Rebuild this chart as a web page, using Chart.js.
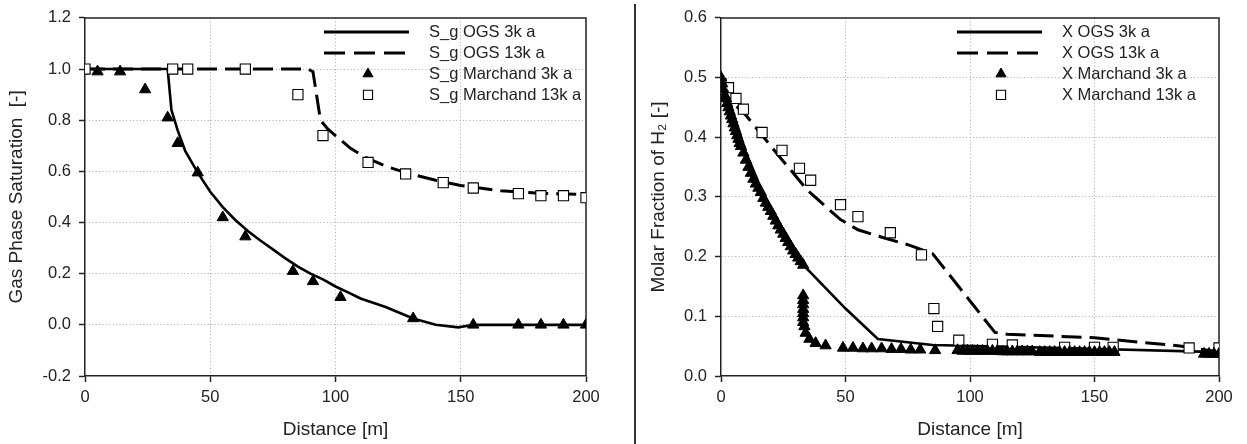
<!DOCTYPE html>
<html lang="en">
<head>
  <meta charset="UTF-8">
  <title>Gas saturation and H2 molar fraction</title>
  <script src="https://cdn.jsdelivr.net/npm/chart.js"></script>
  <style>
    body { margin: 0; background: #fff; }
    #wrap { position: relative; width: 1247px; height: 444px; overflow: hidden; }
    #left { position: absolute; left: 0; top: 0; }
    #right { position: absolute; left: 640px; top: 0; }
    #sep { position: absolute; left: 634px; top: 4px; width: 1.5px; height: 440px; background: #333; }
  </style>
</head>
<body>
  <div id="wrap">
    <canvas id="left" width="610" height="444"></canvas>
    <div id="sep"></div>
    <canvas id="right" width="607" height="444"></canvas>
  </div>

  <script>
    // ---- left panel: gas phase saturation ----
    const sgOgs3kX = [0, 33, 34.5, 37, 40, 45, 50, 55, 60, 65, 70, 75, 80, 85, 90, 95, 100, 105, 110, 120, 131, 140, 149, 155, 200];
    const sgOgs3kY = [1.0, 1.0, 0.84, 0.76, 0.68, 0.595, 0.52, 0.46, 0.41, 0.367, 0.33, 0.295, 0.26, 0.228, 0.2, 0.178, 0.15, 0.127, 0.103, 0.07, 0.025, 0.0, -0.01, 0.0, 0.0];
    const sgOgs13kX = [0, 89, 91, 94, 97, 100, 106, 112, 120, 128, 140, 150, 166, 180, 200];
    const sgOgs13kY = [1.0, 1.0, 0.99, 0.80, 0.765, 0.74, 0.69, 0.655, 0.62, 0.595, 0.565, 0.545, 0.524, 0.515, 0.51];
    const sgMar3kX = [5, 14, 24, 33, 37, 45, 55, 64, 83, 91, 102, 131, 155, 173, 182, 191, 200];
    const sgMar3kY = [0.99, 0.99, 0.92, 0.81, 0.71, 0.595, 0.42, 0.345, 0.21, 0.17, 0.108, 0.025, 0.0, 0.0, 0.0, 0.0, 0.0];
    const sgMar13kX = [0, 35, 41, 64, 85, 95, 113, 128, 143, 155, 173, 182, 191, 200];
    const sgMar13kY = [1.0, 1.0, 1.0, 1.0, 0.9, 0.74, 0.635, 0.59, 0.556, 0.535, 0.513, 0.505, 0.505, 0.497];

    // ---- right panel: molar fraction of H2 ----
    const xOgs3kX = [0, 5, 10, 15, 20, 25, 30, 34, 50, 63, 85, 137, 200];
    const xOgs3kY = [0.5, 0.44, 0.375, 0.325, 0.28, 0.245, 0.21, 0.182, 0.113, 0.062, 0.052, 0.047, 0.04];
    const xOgs13kX = [0, 3, 10, 22, 35, 48, 55, 65, 75, 85, 110, 115, 150, 185, 200];
    const xOgs13kY = [0.49, 0.465, 0.437, 0.375, 0.31, 0.262, 0.245, 0.232, 0.22, 0.205, 0.073, 0.07, 0.064, 0.05, 0.04];
    const xMar3kX = [0, 0.5, 1, 1.5, 2, 2.5, 3, 3.5, 4, 4.5, 5, 5.5, 6, 6.5, 7, 7.5, 8, 9, 10, 11, 12, 13, 14, 15, 16, 17, 18, 19, 20, 21, 22, 23, 24, 25, 26, 27, 28, 29, 30, 31, 32, 33,
      33, 33, 33, 33, 33, 33, 33, 33.5, 34, 35.5, 38, 42,
      49, 53, 57, 60.5, 64.5, 68.5, 72.3, 76.2, 80, 86,
      95, 97, 99, 101, 103, 105, 107, 109, 111, 113, 115, 117, 119, 121, 123, 125,
      128, 130, 132, 134, 136, 138, 140, 142, 144, 146, 148, 150, 152, 154, 156, 158,
      194, 196, 198, 200];
    const xMar3kY = [0.5, 0.49, 0.48, 0.47, 0.465, 0.457, 0.45, 0.443, 0.436, 0.43, 0.423, 0.416, 0.41, 0.403, 0.397, 0.39, 0.385, 0.374, 0.362, 0.35, 0.34, 0.33, 0.322, 0.315, 0.308, 0.298, 0.29, 0.283, 0.276, 0.268, 0.26, 0.252, 0.245, 0.238, 0.231, 0.224, 0.217, 0.21, 0.204, 0.198, 0.192, 0.186,
      0.135, 0.127, 0.12, 0.112, 0.105, 0.098, 0.09, 0.083, 0.072, 0.062, 0.055, 0.051,
      0.047, 0.047, 0.046, 0.046, 0.046, 0.045, 0.045, 0.044, 0.044, 0.043,
      0.043, 0.042, 0.042, 0.042, 0.042, 0.042, 0.042, 0.042, 0.042, 0.041, 0.041, 0.041, 0.041, 0.041, 0.041, 0.041,
      0.04, 0.04, 0.04, 0.04, 0.04, 0.04, 0.04, 0.04, 0.04, 0.04, 0.04, 0.04, 0.04, 0.04, 0.04, 0.04,
      0.037, 0.037, 0.037, 0.037];
    const xMar13kX = [0, 3, 6, 9, 16.5, 24.5, 31.5, 36, 48, 55, 68, 80.5, 85.5, 87, 95.5, 109, 117, 138, 150, 157.5, 188, 200];
    const xMar13kY = [0.49, 0.483, 0.465, 0.447, 0.408, 0.378, 0.348, 0.328, 0.287, 0.267, 0.24, 0.203, 0.113, 0.083, 0.06, 0.053, 0.052, 0.048, 0.048, 0.048, 0.047, 0.047];

    const xTicks = [0, 50, 100, 150, 200];
    const sgTicks = [-0.2, 0.0, 0.2, 0.4, 0.6, 0.8, 1.0, 1.2];
    const hTicks = [0.0, 0.1, 0.2, 0.3, 0.4, 0.5, 0.6];

    const FONT = '"Liberation Sans", Arial, sans-serif';
    const INK = '#222';

    const pts = (xs, ys) => xs.map((x, i) => ({ x, y: ys[i] }));

    function lineSet(label, xs, ys, dash) {
      return {
        label, data: pts(xs, ys), showLine: true, borderColor: '#000', borderWidth: dash ? 3 : 2.6,
        borderDash: dash ? [20, 8] : [], pointRadius: 0, tension: 0, order: 2
      };
    }
    function markSet(label, xs, ys, style) {
      const tri = style === 'triangle';
      return {
        label, data: pts(xs, ys), showLine: false, pointStyle: style,
        pointRadius: tri ? 6.5 : 7.2, borderWidth: tri ? 1 : 1.1,
        backgroundColor: tri ? '#000' : '#fff', borderColor: '#000', order: 1
      };
    }

    // legend drawn inside the plot area, top right
    const insideLegend = {
      id: 'insideLegend',
      afterDatasetsDraw(chart) {
        const { ctx, chartArea } = chart;
        const x0 = chartArea.right - 262;
        ctx.save();
        chart.data.datasets.forEach((ds, i) => {
          const y = chartArea.top + 14 + i * 21;
          if (ds.showLine) {
            ctx.beginPath();
            ctx.strokeStyle = '#000';
            ctx.lineWidth = 3;
            ctx.setLineDash(ds.borderDash.length ? [21, 9] : []);
            ctx.moveTo(x0, y);
            ctx.lineTo(x0 + 85, y);
            ctx.stroke();
            ctx.setLineDash([]);
          } else {
            ctx.fillStyle = ds.backgroundColor;
            ctx.strokeStyle = ds.borderColor;
            ctx.lineWidth = ds.borderWidth;
            Chart.helpers.drawPoint(ctx, { pointStyle: ds.pointStyle, radius: ds.pointRadius * 0.9, borderWidth: ds.borderWidth, rotation: 0 }, x0 + 44, y);
          }
          ctx.font = '16.5px ' + FONT;
          ctx.fillStyle = INK;
          ctx.textBaseline = 'middle';
          ctx.textAlign = 'left';
          ctx.fillText(ds.label, x0 + 105, y + 1);
        });
        ctx.restore();
      }
    };

    // closing box on top and right
    const frame = {
      id: 'frame',
      beforeDatasetsDraw(chart) {
        const { ctx, chartArea: a } = chart;
        ctx.save();
        ctx.strokeStyle = INK;
        ctx.lineWidth = 1.5;
        ctx.beginPath();
        ctx.moveTo(a.left, a.top);
        ctx.lineTo(a.right, a.top);
        ctx.lineTo(a.right, a.bottom);
        ctx.stroke();
        ctx.restore();
      }
    };

    function gridColor(min, max) {
      return c => {
        const v = c.tick ? c.tick.value : null;
        if (v === null || Math.abs(v - min) < 1e-6 || Math.abs(v - max) < 1e-6) return 'rgba(0,0,0,0)';
        return '#a8a8a8';
      };
    }

    function makeChart(id, datasets, yMin, yMax, yStep, yTitle, yWidth, padRight, titlePad) {
      return new Chart(document.getElementById(id), {
        type: 'scatter',
        data: { datasets },
        plugins: [frame, insideLegend],
        options: {
          responsive: false,
          animation: false,
          layout: { padding: { top: 17, right: padRight, left: 0, bottom: 0 } },
          plugins: { legend: { display: false }, tooltip: { enabled: false } },
          scales: {
            x: {
              type: 'linear', min: 0, max: 200,
              afterFit: s => { s.height = 68; },
              afterBuildTicks: s => { s.ticks = xTicks.map(v => ({ value: v })); },
              ticks: { font: { family: FONT, size: 16.5 }, color: INK, padding: 6, maxRotation: 0 },
              grid: { color: gridColor(0, 200), lineWidth: 1, tickColor: INK, tickLength: 6, tickWidth: 1.5 },
              border: { color: INK, width: 1.5, dash: [1, 2.4] },
              title: { display: true, text: 'Distance [m]', font: { family: FONT, size: 19 }, color: INK, padding: { top: 0, bottom: 3 } }
            },
            y: {
              type: 'linear', min: yMin, max: yMax,
              afterFit: s => { s.width = yWidth; },
              afterBuildTicks: s => { s.ticks = yStep.map(v => ({ value: v })); },
              ticks: { font: { family: FONT, size: 16.5 }, color: INK, padding: 8, callback: v => v.toFixed(1) },
              grid: { color: gridColor(yMin, yMax), lineWidth: 1, tickColor: INK, tickLength: 6, tickWidth: 1.5 },
              border: { color: INK, width: 1.5, dash: [1, 2.4] },
              title: { display: true, text: yTitle, font: { family: FONT, size: 19 }, color: INK, padding: { top: titlePad, bottom: 0 } }
            }
          }
        }
      });
    }

    makeChart('left', [
      lineSet('S_g OGS 3k a', sgOgs3kX, sgOgs3kY, false),
      lineSet('S_g OGS 13k a', sgOgs13kX, sgOgs13kY, true),
      markSet('S_g Marchand 3k a', sgMar3kX, sgMar3kY, 'triangle'),
      markSet('S_g Marchand 13k a', sgMar13kX, sgMar13kY, 'rect')
    ], -0.2, 1.2, sgTicks, 'Gas Phase Saturation  [-]', 85, 24, 5);

    makeChart('right', [
      lineSet('X OGS 3k a', xOgs3kX, xOgs3kY, false),
      lineSet('X OGS 13k a', xOgs13kX, xOgs13kY, true),
      markSet('X Marchand 3k a', xMar3kX, xMar3kY, 'triangle'),
      markSet('X Marchand 13k a', xMar13kX, xMar13kY, 'rect')
    ], 0, 0.6, hTicks, 'Molar Fraction of H\u2082 [-]', 81, 28, 7);
  </script>
</body>
</html>
